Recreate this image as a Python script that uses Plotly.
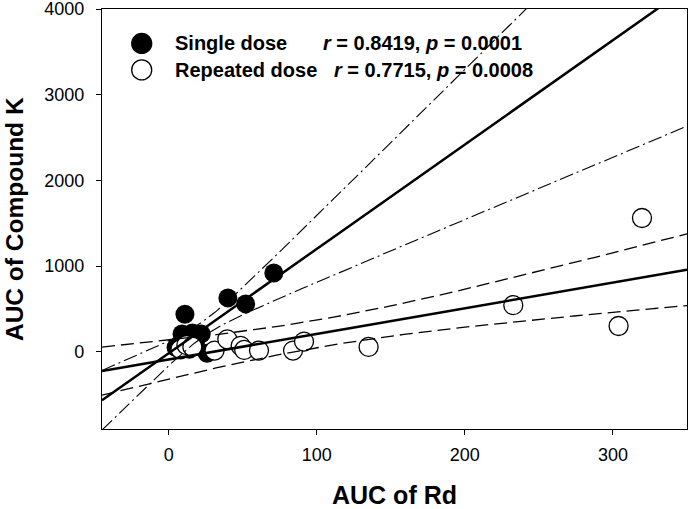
import numpy as np
import plotly.graph_objects as go

# ---- data ----
single_x = [5, 8, 9, 11, 13, 14, 16, 18, 19, 22, 26, 40, 52, 71]
single_y = [50, 60, 210, 440, 120, 30, 220, 100, 180, 210, -15, 630, 560, 920]
repeated_x = [8, 12, 16, 31, 39.6, 48.6, 51, 61, 84, 91.4, 135, 232.7, 303.8, 319.6]
repeated_y = [30, 80, 61, 15, 146, 70, 23, 15, 15, 120, 58, 545, 302, 1562]

series_names = ["Single dose", "Repeated dose"]
stats_text = ["<i>r</i> = 0.8419, <i>p</i> = 0.0001", "<i>r</i> = 0.7715, <i>p</i> = 0.0008"]
x_title = "AUC of Rd"
y_title = "AUC of Compound K"

x_ticks = [0, 100, 200, 300]
y_ticks = [0, 1000, 2000, 3000, 4000]
x_range = [-45, 350]
y_range = [-900, 4001]
T_CRIT = 2.179  # t(0.975, df=12)

FONT = "Liberation Sans, Arial, Helvetica, sans-serif"


def regression_band(x, y, grid):
    x = np.asarray(x, float)
    y = np.asarray(y, float)
    n = len(x)
    mx = x.mean()
    sxx = ((x - mx) ** 2).sum()
    b = ((x - mx) * (y - y.mean())).sum() / sxx
    a = y.mean() - b * mx
    s = np.sqrt(((y - (a + b * x)) ** 2).sum() / (n - 2))
    se = s * np.sqrt(1.0 / n + (grid - mx) ** 2 / sxx)
    fit = a + b * grid
    return fit, fit - T_CRIT * se, fit + T_CRIT * se


grid = np.linspace(x_range[0], x_range[1], 400)
s_fit, s_lo, s_hi = regression_band(single_x, single_y, grid)
r_fit, r_lo, r_hi = regression_band(repeated_x, repeated_y, grid)

fig = go.Figure()

fig.add_trace(go.Scatter(
    x=single_x, y=single_y, mode="markers", name=series_names[0],
    marker=dict(size=19, color="black", line=dict(width=0)), showlegend=False))
fig.add_trace(go.Scatter(
    x=repeated_x, y=repeated_y, mode="markers", name=series_names[1],
    marker=dict(size=19, color="white", line=dict(width=1.3, color="black")), showlegend=False))

# repeated dose fit + 95% CI (dashed)
for yy in (r_lo, r_hi):
    fig.add_trace(go.Scatter(x=grid, y=yy, mode="lines", showlegend=False, hoverinfo="skip",
                             line=dict(color="black", width=1.3, dash="13px,6px")))
fig.add_trace(go.Scatter(x=grid, y=r_fit, mode="lines", showlegend=False, hoverinfo="skip",
                         line=dict(color="black", width=2.5)))

# single dose fit + 95% CI (dash-dot)
for yy in (s_lo, s_hi):
    fig.add_trace(go.Scatter(x=grid, y=yy, mode="lines", showlegend=False, hoverinfo="skip",
                             line=dict(color="black", width=1.1, dash="14px,4px,2px,4px")))
fig.add_trace(go.Scatter(x=grid, y=s_fit, mode="lines", showlegend=False, hoverinfo="skip",
                         line=dict(color="black", width=2.5)))

# legend (drawn in paper coordinates)
legend_rows_y = [0.918, 0.855]
shapes = []
annotations = []
for i, name in enumerate(series_names):
    fill = "black" if i == 0 else "white"
    shapes.append(dict(type="circle", xref="paper", yref="paper",
                       xsizemode="pixel", ysizemode="pixel",
                       xanchor=0.0679, yanchor=legend_rows_y[i],
                       x0=-10, x1=10, y0=-10, y1=10,
                       fillcolor=fill, line=dict(color="black", width=1.3)))
    annotations.append(dict(xref="paper", yref="paper", x=0.121, y=legend_rows_y[i],
                            xanchor="left", yanchor="middle", showarrow=False,
                            text="<b>%s</b>" % name,
                            font=dict(family=FONT, size=20, color="black")))
    annotations.append(dict(xref="paper", yref="paper", x=[0.375, 0.393][i], y=legend_rows_y[i],
                            xanchor="left", yanchor="middle", showarrow=False,
                            text="<b>%s</b>" % stats_text[i],
                            font=dict(family=FONT, size=20, color="black")))

# axis titles
annotations.append(dict(xref="paper", yref="paper", x=0.5, y=-0.158,
                        xanchor="center", yanchor="middle", showarrow=False,
                        text="<b>%s</b>" % x_title,
                        font=dict(family=FONT, size=25, color="black")))
annotations.append(dict(xref="paper", yref="paper", x=-0.1504, y=0.5,
                        xanchor="center", yanchor="middle", showarrow=False, textangle=-90,
                        text="<b>%s</b>" % y_title,
                        font=dict(family=FONT, size=24.5, color="black")))

axis_common = dict(showline=True, linecolor="black", linewidth=1.3, mirror=True,
                   ticks="outside", ticklen=5, tickwidth=1.3, tickcolor="black",
                   showgrid=False, zeroline=False, automargin=False,
                   ticklabeloverflow="allow",
                   tickfont=dict(family=FONT, size=18, color="black"))

fig.update_layout(
    width=689, height=509,
    margin=dict(l=102, r=2, t=9, b=80),
    paper_bgcolor="white", plot_bgcolor="white",
    shapes=shapes, annotations=annotations,
    xaxis=dict(range=x_range, tickvals=x_ticks, ticklabelstandoff=4, **axis_common),
    yaxis=dict(range=y_range, tickvals=y_ticks, ticklabelstandoff=8, **axis_common),
)

fig.write_html(
    "out.html",
    config={"displayModeBar": False},
    post_script="document.body.style.margin='0';document.body.style.padding='0';"
                "document.body.style.overflow='hidden';",
)
